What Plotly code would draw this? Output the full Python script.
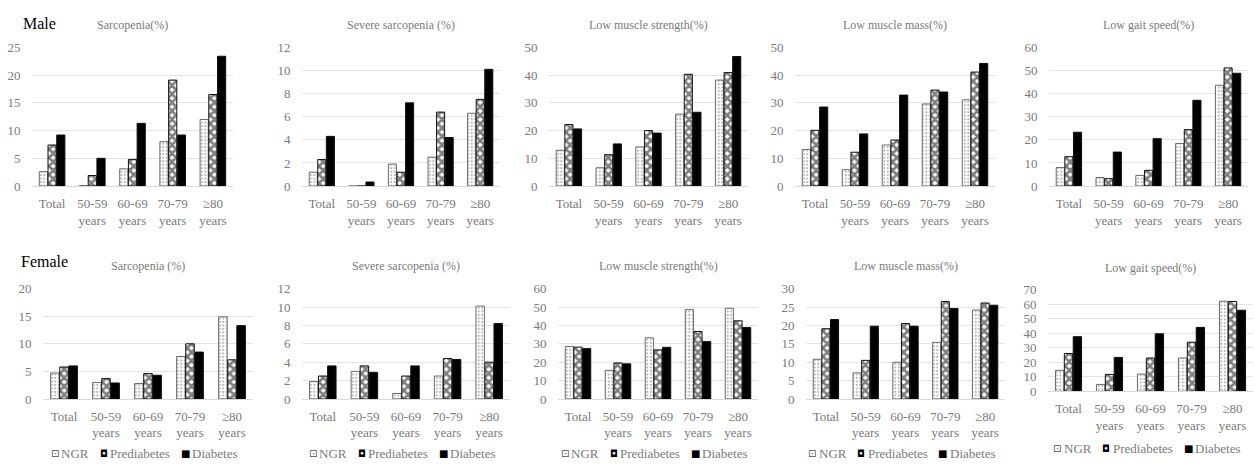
import plotly.graph_objects as go
from plotly.subplots import make_subplots

categories = ["Total", "50-59<br>years", "60-69<br>years", "70-79<br>years", "≥80<br>years"]
groups = ["NGR", "Prediabetes", "Diabetes"]

# Male
m_sarc_ngr = [2.6, 0.1, 3.1, 8.0, 12.0]
m_sarc_pre = [7.4, 1.9, 4.8, 19.1, 16.5]
m_sarc_dm = [9.2, 5.0, 11.3, 9.2, 23.4]

m_sev_ngr = [1.2, 0.0, 1.9, 2.5, 6.3]
m_sev_pre = [2.3, 0.0, 1.2, 6.4, 7.5]
m_sev_dm = [4.3, 0.35, 7.2, 4.2, 10.1]

m_str_ngr = [12.9, 6.6, 14.1, 25.9, 38.2]
m_str_pre = [22.2, 11.3, 20.0, 40.3, 40.9]
m_str_dm = [20.6, 15.2, 19.1, 26.6, 46.7]

m_mass_ngr = [13.2, 5.9, 14.8, 29.6, 31.1]
m_mass_pre = [20.1, 12.2, 16.6, 34.6, 41.1]
m_mass_dm = [28.5, 18.8, 32.8, 33.9, 44.2]

m_gait_ngr = [8.0, 3.7, 4.6, 18.4, 43.6]
m_gait_pre = [12.7, 3.2, 6.8, 24.4, 51.1]
m_gait_dm = [23.3, 14.7, 20.5, 37.1, 48.8]

# Female
f_sarc_ngr = [4.7, 3.0, 2.8, 7.7, 14.9]
f_sarc_pre = [5.8, 3.7, 4.6, 10.0, 7.1]
f_sarc_dm = [6.0, 2.9, 4.3, 8.5, 13.3]

f_sev_ngr = [1.9, 3.0, 0.6, 2.5, 10.1]
f_sev_pre = [2.5, 3.6, 2.5, 4.4, 4.0]
f_sev_dm = [3.6, 2.9, 3.6, 4.3, 8.2]

f_str_ngr = [28.6, 15.6, 33.3, 48.6, 49.3]
f_str_pre = [28.2, 19.6, 26.7, 36.7, 42.5]
f_str_dm = [27.4, 19.1, 28.1, 31.2, 38.9]

f_mass_ngr = [10.8, 7.1, 10.0, 15.4, 24.2]
f_mass_pre = [19.1, 10.5, 20.5, 26.5, 26.1]
f_mass_dm = [21.6, 19.8, 19.8, 24.6, 25.5]

f_gait_ngr = [14.4, 4.7, 11.8, 22.9, 62.0]
f_gait_pre = [26.0, 11.6, 22.9, 33.8, 61.8]
f_gait_dm = [37.6, 23.3, 39.6, 44.0, 55.8]

titles_top = ["Sarcopenia(%)", "Severe sarcopenia (%)", "Low muscle strength(%)", "Low muscle mass(%)", "Low gait speed(%)"]
titles_bot = ["Sarcopenia (%)", "Severe sarcopenia (%)", "Low muscle strength(%)", "Low muscle mass(%)", "Low gait speed(%)"]

ymax_top = [25, 12, 50, 50, 60]
dtick_top = [5, 2, 10, 10, 10]
ymax_bot = [20, 12, 60, 30, 70]
dtick_bot = [5, 2, 10, 5, 10]

panels_top = [
    (m_sarc_ngr, m_sarc_pre, m_sarc_dm),
    (m_sev_ngr, m_sev_pre, m_sev_dm),
    (m_str_ngr, m_str_pre, m_str_dm),
    (m_mass_ngr, m_mass_pre, m_mass_dm),
    (m_gait_ngr, m_gait_pre, m_gait_dm),
]
panels_bot = [
    (f_sarc_ngr, f_sarc_pre, f_sarc_dm),
    (f_sev_ngr, f_sev_pre, f_sev_dm),
    (f_str_ngr, f_str_pre, f_str_dm),
    (f_mass_ngr, f_mass_pre, f_mass_dm),
    (f_gait_ngr, f_gait_pre, f_gait_dm),
]

W, H = 1255, 467
FONT = "'Liberation Serif', 'Times New Roman', Times, serif"
SYMFONT = "'DejaVu Sans', sans-serif"
GRAY = "#7a7a7a"

# pixel layout of plot areas
top_x = [(32, 233), (302, 500), (549, 748), (795, 995), (1049, 1248)]
bot_x = [(43, 253), (302, 510), (558, 758), (806, 1005), (1048, 1253)]
top_y = [(41.7, 185)] * 5
bot_y = [(291, 405)] * 4 + [(292, 397)]

styles = [
    dict(color="white", line=dict(color="#6a6a6a", width=1),
         pattern=dict(shape=".", fgcolor="#707070", bgcolor="white", size=3.5, solidity=0.3)),
    dict(color="white", line=dict(color="#101010", width=1),
         pattern=dict(shape="x", fgcolor="black", bgcolor="white", size=6, solidity=0.68)),
    dict(color="black", line=dict(color="#101010", width=1)),
]

fig = make_subplots(rows=2, cols=5)

for i in range(5):
    for row, series in ((1, panels_top[i]), (2, panels_bot[i])):
        for g, vals, st in zip(groups, series, styles):
            fig.add_trace(go.Bar(x=categories, y=vals, name=g, marker=st, showlegend=False),
                          row=row, col=i + 1)


def xdom(px):
    return [px[0] / W, px[1] / W]


def ydom(py):
    return [1 - py[1] / H, 1 - py[0] / H]


def px_x(x):
    return x / W


def px_y(y):
    return 1 - y / H


layout_upd = {}
annotations = []
for i in range(5):
    for r, xs, ys, ymax, dt, ttl in ((0, top_x, top_y, ymax_top, dtick_top, titles_top),
                                     (1, bot_x, bot_y, ymax_bot, dtick_bot, titles_bot)):
        idx = r * 5 + i + 1
        sfx = "" if idx == 1 else str(idx)
        layout_upd["xaxis" + sfx] = dict(
            domain=xdom(xs[i]), showgrid=False, showline=True, linecolor="#d9d9d9",
            linewidth=1, ticks="outside", ticklen=5, tickcolor="rgba(0,0,0,0)",
            tickfont=dict(family=FONT, size=13, color=GRAY), zeroline=False)
        layout_upd["yaxis" + sfx] = dict(
            domain=ydom(ys[i]), range=[0, ymax[i]], dtick=dt[i], showgrid=True,
            gridcolor="#e3e3e3", gridwidth=1, showline=False, zeroline=False,
            ticks="outside", ticklen=8, tickcolor="rgba(0,0,0,0)",
            tickfont=dict(family=FONT, size=13, color=GRAY))
        cx = (xs[i][0] + xs[i][1]) / 2
        ty = 19 if r == 0 else (268 if i < 4 else 270)
        annotations.append(dict(text=ttl[i], x=px_x(cx), y=px_y(ty), xref="paper", yref="paper",
                                showarrow=False, xanchor="center", yanchor="middle",
                                font=dict(family=FONT, size=12, color=GRAY)))

annotations.append(dict(text="Male", x=px_x(21), y=px_y(17), xref="paper", yref="paper",
                        showarrow=False, xanchor="left", yanchor="middle",
                        font=dict(family=FONT, size=16, color="black")))
annotations.append(dict(text="Female", x=px_x(19), y=px_y(263), xref="paper", yref="paper",
                        showarrow=False, xanchor="left", yanchor="middle",
                        font=dict(family=FONT, size=16, color="black")))

# legend rows under each bottom panel
legend_glyphs = ["⊡", "◘", "■"]
legend_glyph_colors = ["#505050", "#000000", "#000000"]
legend_offsets = [-97, -48, 34]
for i in range(5):
    cx = (bot_x[i][0] + bot_x[i][1]) / 2
    ly = 461 if i < 4 else 456
    for g, gl, gc, off in zip(groups, legend_glyphs, legend_glyph_colors, legend_offsets):
        annotations.append(dict(text=gl, x=px_x(cx + off + 3.5), y=px_y(ly), xref="paper", yref="paper",
                                showarrow=False, xanchor="center", yanchor="middle",
                                font=dict(family=SYMFONT, size=10, color=gc)))
        annotations.append(dict(text=g, x=px_x(cx + off + 8), y=px_y(ly), xref="paper", yref="paper",
                                showarrow=False, xanchor="left", yanchor="middle",
                                font=dict(family=FONT, size=13, color=GRAY)))

fig.update_layout(**layout_upd)
fig.update_layout(
    width=W, height=H, margin=dict(l=0, r=0, t=0, b=0),
    paper_bgcolor="white", plot_bgcolor="white",
    barmode="group", bargap=0.35, bargroupgap=0.06,
    annotations=annotations, font=dict(family=FONT), showlegend=False,
)

fig.write_html("out.html", config={"displayModeBar": False},
               post_script="document.body.style.margin='0px';")
